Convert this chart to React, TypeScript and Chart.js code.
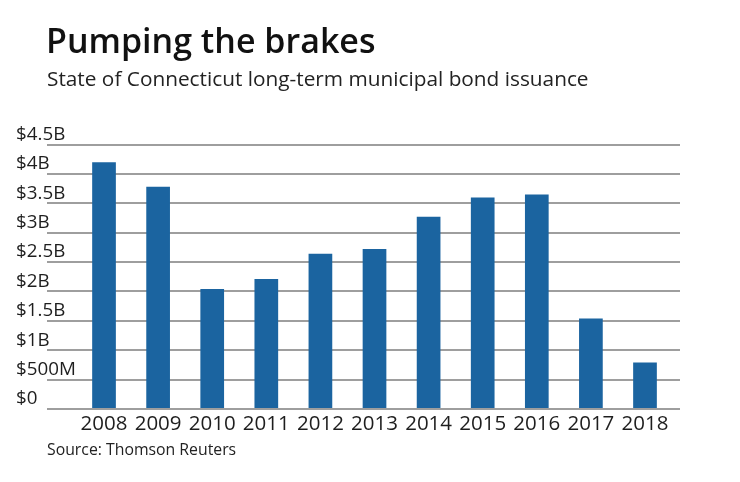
import React, { useEffect, useRef } from 'react';
import { Chart, registerables } from 'chart.js';

Chart.register(...registerables);

const years = ['2008', '2009', '2010', '2011', '2012', '2013', '2014', '2015', '2016', '2017', '2018'];
const issuance = [4.2, 3.78, 2.04, 2.21, 2.64, 2.72, 3.27, 3.6, 3.65, 1.54, 0.79];
const yTickLabels = ['$0', '$500M', '$1B', '$1.5B', '$2B', '$2.5B', '$3B', '$3.5B', '$4B', '$4.5B'];

const FONT = '"Open Sans", "Noto Sans", sans-serif';

export default function App() {
  const ref = useRef<HTMLCanvasElement>(null);

  useEffect(() => {
    const chart = new Chart(ref.current as HTMLCanvasElement, {
      type: 'bar',
      data: {
        datasets: [
          {
            data: issuance.map((v, i) => ({ x: i, y: v })),
            backgroundColor: '#1b64a0',
            barPercentage: 0.438,
            categoryPercentage: 1,
          },
        ],
      },
      options: {
        responsive: false,
        animation: false,
        devicePixelRatio: 1,
        layout: { padding: { left: 16, right: 60, top: 144.5, bottom: 43 } },
        plugins: {
          legend: { display: false },
          tooltip: { enabled: false },
        },
        scales: {
          x: {
            type: 'linear',
            offset: false,
            min: -1.054,
            max: 10.647,
            grid: { display: false, drawTicks: false },
            border: { display: false },
            ticks: {
              stepSize: 1,
              includeBounds: false,
              autoSkip: false,
              maxRotation: 0,
              minRotation: 0,
              maxTicksLimit: 40,
              padding: 2.5,
              color: '#1e1e1e',
              font: { family: FONT, size: 20.5 },
              callback: (v: any) => {
                const n = Number(v);
                return Number.isInteger(n) && years[n] ? years[n] : '';
              },
            },
            afterFit: (s: any) => {
              s.height = 30;
            },
          },
          y: {
            min: 0,
            max: 4.5,
            grid: { color: '#9e9e9e', lineWidth: 2, drawTicks: false },
            border: { display: false },
            ticks: {
              stepSize: 0.5,
              mirror: true,
              crossAlign: 'near',
              labelOffset: -10,
              padding: -31,
              color: '#1e1e1e',
              font: { family: FONT, size: 18.8 },
              callback: (v: any) => yTickLabels[Math.round(Number(v) / 0.5)] ?? '',
            },
            afterFit: (s: any) => {
              s.width = 31;
            },
          },
        },
      },
    } as any);
    return () => chart.destroy();
  }, []);

  return (
    <div style={{ position: 'absolute', left: 0, top: 0, width: 740, height: 482, background: '#fff', fontFamily: FONT }}>
      <canvas ref={ref} width={740} height={482} style={{ position: 'absolute', left: 0, top: 0, width: 740, height: 482 }} />
      <div style={{ position: 'absolute', left: 46, top: 22.5, fontSize: 34, fontWeight: 600, lineHeight: 1, color: '#111', whiteSpace: 'nowrap' }}>
        Pumping the brakes
      </div>
      <div style={{ position: 'absolute', left: 47, top: 68, fontSize: 20.8, lineHeight: 1, color: '#222', whiteSpace: 'nowrap' }}>
        State of Connecticut long-term municipal bond issuance
      </div>
      <div style={{ position: 'absolute', left: 47, top: 442, fontSize: 15.8, lineHeight: 1, color: '#222', whiteSpace: 'nowrap' }}>
        Source: Thomson Reuters
      </div>
    </div>
  );
}
